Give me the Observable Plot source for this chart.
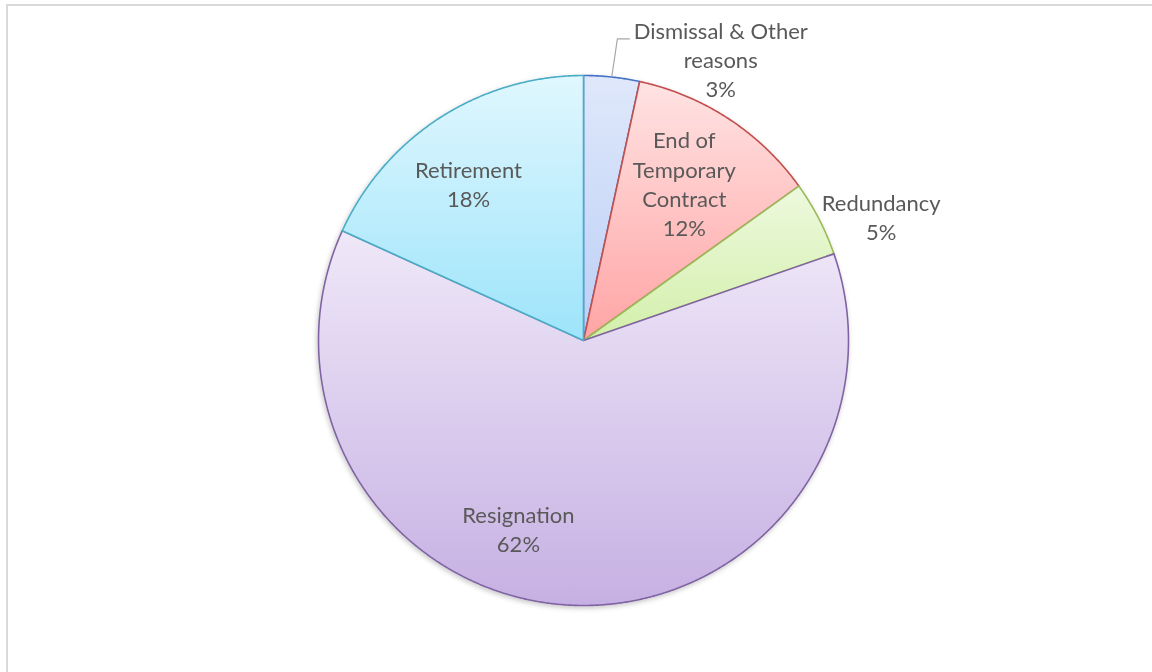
<!DOCTYPE html>
<html>
<head>
<meta charset="utf-8">
<script src="https://cdn.jsdelivr.net/npm/d3@7"></script>
<script src="https://cdn.jsdelivr.net/npm/@observablehq/plot@0.6"></script>
<style>
  html, body { margin: 0; padding: 0; background: #fff; overflow: hidden; width: 1152px; height: 672px; }
  #frame { position: absolute; left: 6px; top: 4px; width: 1200px; height: 720px; border: 2px solid #d9d9d9; box-sizing: border-box; }
  #chart { position: absolute; left: 0; top: 0; }
</style>
</head>
<body>
<div id="frame"></div>
<div id="chart"></div>
<script>
// ---- data ----
const categories = ["Dismissal & Other reasons", "End of Temporary Contract", "Redundancy", "Resignation", "Retirement"];
const shares = [3.4, 11.7, 4.6, 62.1, 18.2];
const labelText = ["Dismissal & Other\nreasons", "End of\nTemporary\nContract", "Redundancy", "Resignation", "Retirement"];

// ---- styles ----
const strokeColors = ["#4472c4", "#c0504d", "#9bbb59", "#8064a2", "#4bacc6"];
const gradTop = ["#dfe8fb", "#ffe3e3", "#edf9de", "#efe8f8", "#e0f7fe"];
const gradBottom = ["#bccff5", "#ffa4a4", "#d3efaa", "#c6b0e3", "#9de4fa"];
// label placement (radius as fraction of pie radius, angle in degrees clockwise from top)
const labelPlace = [
  {r: 1.177, a: 26.1},
  {r: 0.70, a: 32.9},
  {r: 1.215, a: 67.6},
  {r: 0.758, a: 198.9},
  {r: 0.728, a: 323.4}
];

const W = 1152, H = 672, CX = 583, CY = 340, R = 265;

// ---- geometry from data ----
const total = d3.sum(shares);
const pie = d3.pie().sort(null).value(d => d)(shares);
const slicePts = [];
pie.forEach((p, i) => {
  const pts = [{i, x: 0, y: 0}];
  const n = Math.max(2, Math.ceil((p.endAngle - p.startAngle) / 0.005));
  for (let k = 0; k <= n; k++) {
    const a = p.startAngle + (p.endAngle - p.startAngle) * k / n;
    pts.push({i, x: Math.sin(a), y: Math.cos(a)});
  }
  slicePts.push(pts);
});

const labels = shares.map((v, i) => {
  const a = labelPlace[i].a * Math.PI / 180;
  return {
    x: labelPlace[i].r * Math.sin(a),
    y: labelPlace[i].r * Math.cos(a),
    text: labelText[i] + "\n" + Math.round(v / total * 100) + "%"
  };
});

// leader line for the first (outside) label
const p0 = pie[0];
const mid0 = (p0.startAngle + p0.endAngle) / 2;
const leader = [
  {x: Math.sin(mid0), y: Math.cos(mid0)},
  {x: 1.145 * Math.sin(mid0 + 0.005), y: 1.145 * Math.cos(mid0 + 0.005)},
  {x: 1.145 * Math.sin(mid0 + 0.005) + 12 / R, y: 1.145 * Math.cos(mid0 + 0.005)}
];

const marks = slicePts.map((pts, i) => Plot.line(pts, {
  x: "x", y: "y",
  curve: "linear-closed",
  fill: `url(#grad${i})`,
  stroke: strokeColors[i],
  strokeWidth: 1.6,
  strokeLinejoin: "round"
}));

marks.push(Plot.line(leader, {x: "x", y: "y", stroke: "#a6a6a6", strokeWidth: 1.2, curve: "linear"}));
marks.push(Plot.text(labels, {
  x: "x", y: "y", text: "text",
  fill: "#595959",
  fontSize: 22,
  lineHeight: 1.32,
  dy: -2,
  fontFamily: "Lato, 'Open Sans', sans-serif"
}));

const chart = Plot.plot({
  width: W, height: H,
  margin: 0,
  x: {domain: [-CX / R, (W - CX) / R], axis: null},
  y: {domain: [-(H - CY) / R, CY / R], axis: null},
  style: {background: "transparent", overflow: "visible"},
  marks
});

// gradients and shadow
const ns = "http://www.w3.org/2000/svg";
const defs = document.createElementNS(ns, "defs");
strokeColors.forEach((c, i) => {
  const g = document.createElementNS(ns, "linearGradient");
  g.setAttribute("id", "grad" + i);
  g.setAttribute("x1", "0"); g.setAttribute("y1", "0");
  g.setAttribute("x2", "0"); g.setAttribute("y2", "1");
  [[0, gradTop[i]], [1, gradBottom[i]]].forEach(([o, col]) => {
    const s = document.createElementNS(ns, "stop");
    s.setAttribute("offset", o);
    s.setAttribute("stop-color", col);
    g.appendChild(s);
  });
  defs.appendChild(g);
});
const filt = document.createElementNS(ns, "filter");
filt.setAttribute("id", "shadow");
filt.setAttribute("x", "-10%"); filt.setAttribute("y", "-10%");
filt.setAttribute("width", "120%"); filt.setAttribute("height", "120%");
const ds = document.createElementNS(ns, "feDropShadow");
ds.setAttribute("dx", "-1"); ds.setAttribute("dy", "2");
ds.setAttribute("stdDeviation", "2.5");
ds.setAttribute("flood-color", "#000"); ds.setAttribute("flood-opacity", "0.22");
filt.appendChild(ds);
defs.appendChild(filt);
chart.insertBefore(defs, chart.firstChild);

const lineGroups = Array.from(chart.querySelectorAll('g[aria-label="line"]')).slice(0, strokeColors.length);
const pieGroup = document.createElementNS(ns, "g");
pieGroup.setAttribute("filter", "url(#shadow)");
lineGroups[0].parentNode.insertBefore(pieGroup, lineGroups[0]);
lineGroups.forEach(g => pieGroup.appendChild(g));

document.getElementById("chart").appendChild(chart);
</script>
</body>
</html>
